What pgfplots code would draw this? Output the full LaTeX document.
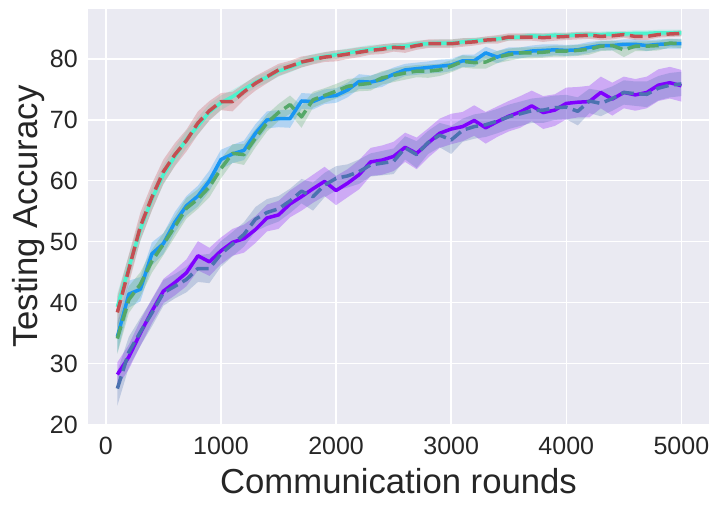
\documentclass[border=0pt]{standalone}
\usepackage{fontspec}
\setmainfont{Liberation Sans}
\usepackage{pgfplots}
\usepackage{pgfplotstable}
\usepgfplotslibrary{fillbetween}
\pgfplotsset{compat=1.18}
\definecolor{bgc}{HTML}{EAEAF2}
\definecolor{labc}{HTML}{262626}
\definecolor{cR}{HTML}{C44E52}
\definecolor{cG}{HTML}{55A868}
\definecolor{cS}{HTML}{4C72B0}
\definecolor{cC}{HTML}{4DF3CE}
\definecolor{cB}{HTML}{1996F3}
\definecolor{cP}{HTML}{8000FF}

\pgfplotstableread{
x m e
100 38.4 2.6
200 45.5 2.4
300 52.5 2.3
400 57.3 2.2
500 61.5 2.0
600 64.3 1.9
700 66.6 1.8
800 69.5 1.9
900 71.5 1.6
1000 73.0 1.4
1100 73.0 1.6
1200 74.6 1.3
1300 76.0 1.2
1400 77.1 1.1
1500 78.2 1.0
1600 78.8 0.9
1700 79.5 0.9
1800 79.9 0.8
1900 80.3 0.8
2000 80.5 0.9
2100 80.8 0.8
2200 81.1 0.8
2300 81.4 0.7
2400 81.6 0.8
2500 81.9 0.7
2600 81.8 0.8
2700 82.2 0.7
2800 82.5 0.7
2900 82.5 0.7
3000 82.5 0.7
3100 82.7 0.7
3200 82.8 0.6
3300 83.1 0.6
3400 83.2 0.7
3500 83.6 0.6
3600 83.6 0.6
3700 83.6 0.6
3800 83.5 0.7
3900 83.6 0.6
4000 83.7 0.6
4100 83.8 0.6
4200 83.9 0.6
4300 83.7 0.6
4400 83.8 0.6
4500 84.0 0.5
4600 83.7 0.6
4700 83.7 0.6
4800 84.0 0.5
4900 84.1 0.5
5000 84.2 0.5
}\tabR

\pgfplotstableread{
x m e
100 39.3 2.2
200 45.8 2.0
300 52.0 1.9
400 57.0 1.8
500 61.0 1.6
600 64.0 1.5
700 66.8 1.4
800 69.0 1.4
900 71.3 1.3
1000 72.8 1.2
1100 73.8 1.1
1200 75.0 1.0
1300 76.2 0.9
1400 77.0 0.9
1500 78.0 0.9
1600 78.6 0.8
1700 79.4 0.8
1800 80.0 0.8
1900 80.4 0.7
2000 80.7 0.7
2100 81.0 0.7
2200 81.3 0.7
2300 81.6 0.7
2400 81.8 0.6
2500 82.0 0.6
2600 82.1 0.6
2700 82.4 0.6
2800 82.5 0.6
2900 82.6 0.6
3000 82.6 0.6
3100 82.8 0.6
3200 83.0 0.5
3300 83.1 0.5
3400 83.3 0.5
3500 83.5 0.5
3600 83.6 0.5
3700 83.8 0.5
3800 83.7 0.5
3900 83.9 0.5
4000 83.8 0.5
4100 84.0 0.5
4200 84.0 0.5
4300 84.0 0.5
4400 84.1 0.5
4500 84.1 0.5
4600 84.2 0.5
4700 84.2 0.5
4800 84.3 0.5
4900 84.3 0.5
5000 84.3 0.5
}\tabC

\pgfplotstableread{
x m e
100 34.4 2.6
200 41.4 2.2
300 42.2 2.0
400 48.0 1.9
500 49.7 1.7
600 53.2 1.7
700 55.9 1.6
800 57.5 1.7
900 60.0 1.7
1000 63.5 1.6
1100 64.4 1.5
1200 65.0 1.6
1300 67.8 1.5
1400 70.0 1.4
1500 70.2 1.4
1600 70.2 1.5
1700 73.1 1.3
1800 73.0 1.3
1900 73.8 1.2
2000 74.0 1.2
2100 74.9 1.2
2200 76.3 1.2
2300 76.2 1.1
2400 76.6 1.2
2500 77.5 1.1
2600 78.2 1.0
2700 78.4 1.0
2800 78.6 1.0
2900 78.8 1.1
3000 79.0 1.0
3100 79.7 1.0
3200 79.7 1.0
3300 81.0 1.0
3400 80.3 1.0
3500 81.0 0.9
3600 81.0 0.9
3700 81.3 0.9
3800 81.4 1.0
3900 81.5 0.9
4000 81.4 0.9
4100 81.5 0.9
4200 81.9 0.9
4300 82.2 0.8
4400 82.2 0.8
4500 82.4 0.8
4600 82.4 0.8
4700 82.2 0.9
4800 82.4 0.8
4900 82.5 0.8
5000 82.5 0.8
}\tabB

\pgfplotstableread{
x m e
100 34.1 2.5
200 40.5 2.2
300 43.0 2.0
400 46.8 1.9
500 49.6 1.8
600 52.5 1.7
700 55.5 1.7
800 57.0 1.6
900 59.0 1.7
1000 62.0 1.6
1100 64.5 1.5
1200 64.3 1.7
1300 67.0 1.5
1400 69.5 1.4
1500 71.2 1.4
1600 72.5 1.5
1700 70.5 1.8
1800 73.3 1.3
1900 74.0 1.2
2000 74.7 1.2
2100 75.5 1.2
2200 75.8 1.1
2300 76.0 1.2
2400 76.9 1.1
2500 77.3 1.1
2600 77.7 1.1
2700 78.0 1.0
2800 78.0 1.1
2900 78.2 1.0
3000 78.8 1.0
3100 79.6 1.0
3200 79.4 1.0
3300 79.5 1.1
3400 80.3 1.0
3500 80.7 1.0
3600 81.0 0.9
3700 81.0 0.9
3800 81.1 0.9
3900 81.3 0.9
4000 81.3 0.9
4100 81.4 0.9
4200 81.6 0.9
4300 82.1 0.8
4400 82.2 0.8
4500 81.5 1.2
4600 82.1 0.8
4700 82.1 0.8
4800 82.2 0.8
4900 82.6 0.7
5000 82.5 0.7
}\tabG

\pgfplotstableread{
x m e
100 28.2 2.0
200 31.1 2.0
300 35.0 2.1
400 38.6 2.0
500 41.9 2.0
600 43.3 2.1
700 44.9 2.2
800 47.7 2.4
900 46.7 2.3
1000 48.5 2.2
1100 49.9 2.2
1200 50.5 2.3
1300 52.0 2.2
1400 53.9 2.2
1500 54.4 2.3
1600 56.2 2.2
1700 57.4 2.3
1800 58.7 2.3
1900 59.9 2.4
2000 58.4 2.4
2100 59.6 2.3
2200 61.0 2.4
2300 63.1 2.3
2400 63.4 2.4
2500 64.0 2.4
2600 65.5 2.4
2700 64.5 2.6
2800 66.2 2.4
2900 67.8 2.4
3000 68.5 2.5
3100 68.9 2.4
3200 69.9 2.5
3300 68.7 2.6
3400 69.7 2.5
3500 70.6 2.5
3600 71.3 2.6
3700 72.3 2.5
3800 71.2 2.7
3900 71.6 2.6
4000 72.7 2.6
4100 72.9 2.5
4200 73.0 2.6
4300 74.5 2.6
4400 73.4 2.7
4500 74.5 2.6
4600 74.1 2.6
4700 74.5 2.6
4800 75.7 2.6
4900 76.1 2.6
5000 75.6 2.6
}\tabP

\pgfplotstableread{
x m e
100 25.9 2.8
200 31.9 2.5
300 35.2 2.3
400 38.3 2.2
500 41.6 2.1
600 42.7 2.0
700 43.8 2.1
800 45.6 2.2
900 45.6 2.4
1000 48.0 2.1
1100 49.6 2.0
1200 51.2 2.0
1300 53.7 2.0
1400 54.8 2.2
1500 55.4 2.1
1600 56.7 2.0
1700 58.3 2.0
1800 57.4 2.3
1900 59.3 2.0
2000 60.4 2.0
2100 60.8 1.9
2200 61.5 2.0
2300 62.6 1.9
2400 62.9 2.0
2500 63.2 2.1
2600 65.4 1.9
2700 64.3 2.2
2800 66.3 1.9
2900 67.5 2.0
3000 66.7 2.3
3100 68.3 1.9
3200 68.9 2.0
3300 69.2 2.0
3400 69.8 2.0
3500 70.5 2.0
3600 71.0 2.0
3700 71.5 2.0
3800 71.6 2.1
3900 72.0 2.0
4000 72.1 2.0
4100 71.4 2.3
4200 73.1 2.0
4300 72.7 2.1
4400 73.5 2.0
4500 74.5 2.0
4600 74.3 2.0
4700 74.2 2.1
4800 75.2 2.0
4900 75.7 2.0
5000 75.9 2.0
}\tabS

\newcommand{\band}[3]{%
  \addplot[draw=none, forget plot, name path=#3u] table[x=x, y expr=\thisrow{m}+\thisrow{e}] {#1};
  \addplot[draw=none, forget plot, name path=#3l] table[x=x, y expr=\thisrow{m}-\thisrow{e}] {#1};
  \addplot[fill=#2, fill opacity=0.27, draw=none, forget plot] fill between[of=#3u and #3l];
}

\begin{document}
\begin{tikzpicture}
\path (0,0) rectangle (722bp,509bp);
\begin{axis}[
  at={(88bp,84.5bp)}, anchor=south west,
  width=621bp, height=415.5bp, scale only axis,
  xmin=-155, xmax=5240, ymin=20, ymax=88.2,
  xtick={0,1000,2000,3000,4000,5000},
  ytick={20,30,40,50,60,70,80},
  axis background/.style={fill=bgc},
  axis line style={draw=none},
  major tick length=0pt,
  grid=major,
  major grid style={white, line width=1.4bp},
  tick label style={font=\fontsize{25bp}{30bp}\selectfont, text=labc},
  xticklabel style={inner sep=0pt, yshift=-12.5bp},
  yticklabel style={inner sep=0pt, xshift=-10bp},
  /pgf/number format/assume math mode=true,
  /pgf/number format/1000 sep={},
  line join=round,
]
\band{\tabC}{cC}{c}
\band{\tabR}{cR}{r}
\band{\tabB}{cB}{b}
\band{\tabG}{cG}{g}
\band{\tabP}{cP}{p}
\band{\tabS}{cS}{s}

\addplot[color=cC, line width=3.5bp] table[x=x, y=m] {\tabC};
\addplot[color=cR, line width=3.5bp, dash pattern=on 12.8bp off 5.6bp] table[x=x, y=m] {\tabR};
\addplot[color=cB, line width=3.5bp] table[x=x, y=m] {\tabB};
\addplot[color=cG, line width=3.5bp, dash pattern=on 12.8bp off 5.6bp] table[x=x, y=m] {\tabG};
\addplot[color=cP, line width=3.5bp] table[x=x, y=m] {\tabP};
\addplot[color=cS, line width=3.5bp, dash pattern=on 12.8bp off 5.6bp] table[x=x, y=m] {\tabS};
\end{axis}
\node[rotate=90, anchor=base, text=labc, font=\fontsize{34.7bp}{40bp}\selectfont] at (37bp,292.3bp) {Testing Accuracy};
\node[anchor=base, text=labc, font=\fontsize{34.7bp}{40bp}\selectfont] at (398.5bp,16bp) {Communication rounds};
\end{tikzpicture}
\end{document}
